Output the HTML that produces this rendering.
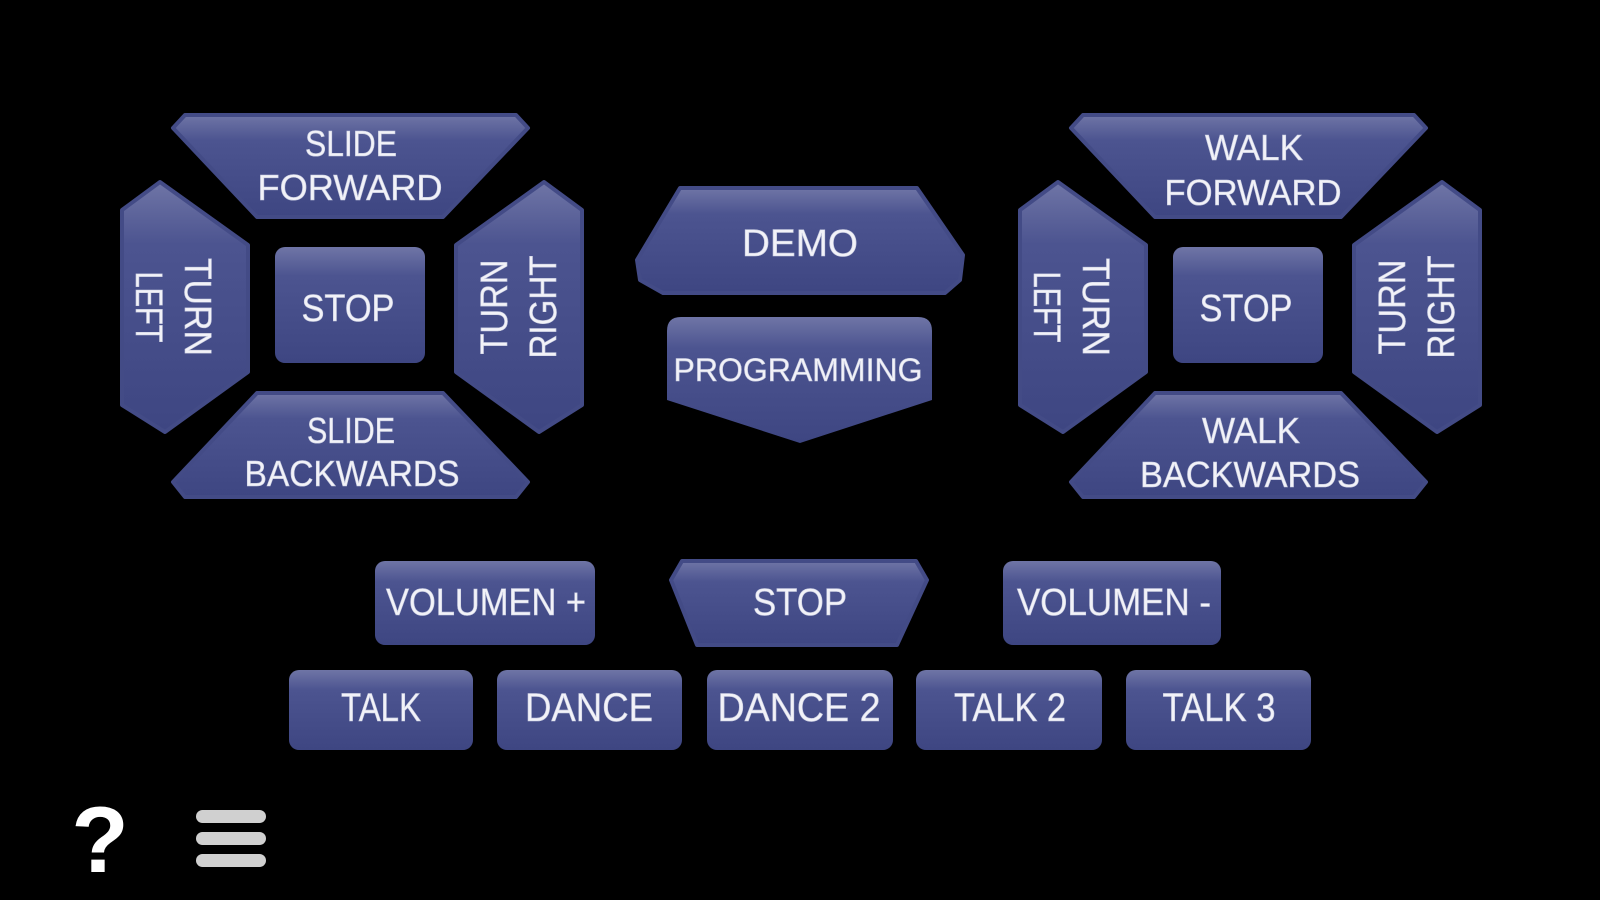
<!DOCTYPE html>
<html><head><meta charset="utf-8"><style>
html,body{margin:0;padding:0;background:#000;width:1600px;height:900px;overflow:hidden}
svg{display:block}
text{font-family:"Liberation Sans",sans-serif;fill:#f2f2f8;text-anchor:middle;stroke:#c8cce0;stroke-width:0.6}
</style></head><body>
<svg width="1600" height="900" viewBox="0 0 1600 900" xmlns="http://www.w3.org/2000/svg">
<defs>
<linearGradient id="g" x1="0" y1="0" x2="0" y2="1">
<stop offset="0" stop-color="#6f75a6"/><stop offset="0.25" stop-color="#4c5490"/><stop offset="1" stop-color="#3e4682"/>
</linearGradient>
<g id="cluster">
<polygon points="185,115 516,115 528,128 443,217 257,217 173,128" fill="url(#g)" stroke="#434b86" stroke-width="4" stroke-linejoin="round"/>
<polygon points="257,393 443,393 528,482 516,497 185,497 173,482" fill="url(#g)" stroke="#434b86" stroke-width="4" stroke-linejoin="round"/>
<polygon points="160,182 248,245 248,372 165,432 122,405 122,210" fill="url(#g)" stroke="#434b86" stroke-width="4" stroke-linejoin="round"/>
<polygon points="544,182 456,245 456,372 539,432 582,405 582,210" fill="url(#g)" stroke="#434b86" stroke-width="4" stroke-linejoin="round"/>
<rect x="275" y="247" width="150" height="116" rx="10" fill="url(#g)"/>
<text x="348" y="321" font-size="38" textLength="93" lengthAdjust="spacingAndGlyphs">STOP</text>
<text transform="translate(176,307) rotate(90)" font-size="38"><tspan x="0" y="-9" textLength="98" lengthAdjust="spacingAndGlyphs">TURN</tspan><tspan x="0" y="40" textLength="71" lengthAdjust="spacingAndGlyphs">LEFT</tspan></text>
<text transform="translate(516,307) rotate(-90)" font-size="38"><tspan x="0" y="-9" textLength="95" lengthAdjust="spacingAndGlyphs">TURN</tspan><tspan x="0" y="40" textLength="103" lengthAdjust="spacingAndGlyphs">RIGHT</tspan></text>
</g>
</defs>
<use href="#cluster"/>
<use href="#cluster" transform="translate(898,0)"/>
<g font-size="36">
<text x="351" y="156" textLength="92" lengthAdjust="spacingAndGlyphs">SLIDE</text>
<text x="350" y="200" textLength="185" lengthAdjust="spacingAndGlyphs">FORWARD</text>
<text x="351" y="443" textLength="88" lengthAdjust="spacingAndGlyphs">SLIDE</text>
<text x="352" y="486" textLength="215" lengthAdjust="spacingAndGlyphs">BACKWARDS</text>
<text x="1254" y="160" textLength="98" lengthAdjust="spacingAndGlyphs">WALK</text>
<text x="1253" y="205" textLength="177" lengthAdjust="spacingAndGlyphs">FORWARD</text>
<text x="1251" y="443" textLength="98" lengthAdjust="spacingAndGlyphs">WALK</text>
<text x="1250" y="487" textLength="220" lengthAdjust="spacingAndGlyphs">BACKWARDS</text>
</g>
<!-- middle -->
<polygon points="680,188 917,188 963,255 960,280 945,293 663,293 640,280 637,260" fill="url(#g)" stroke="#434b86" stroke-width="4" stroke-linejoin="round"/>
<text x="800" y="256" font-size="38" textLength="116" lengthAdjust="spacingAndGlyphs">DEMO</text>
<path d="M681,317 H918 Q932,317 932,331 V400 L800,443 L667,400 V331 Q667,317 681,317 Z" fill="url(#g)"/>
<text x="798" y="381" font-size="32" textLength="249" lengthAdjust="spacingAndGlyphs">PROGRAMMING</text>
<!-- bottom rows -->
<rect x="375" y="561" width="220" height="84" rx="10" fill="url(#g)"/>
<text x="486" y="615" font-size="38" textLength="200" lengthAdjust="spacingAndGlyphs">VOLUMEN +</text>
<polygon points="682,561 916,561 927,580 897,645 697,645 671,580" fill="url(#g)" stroke="#434b86" stroke-width="4" stroke-linejoin="round"/>
<text x="800" y="615" font-size="38" textLength="94" lengthAdjust="spacingAndGlyphs">STOP</text>
<rect x="1003" y="561" width="218" height="84" rx="10" fill="url(#g)"/>
<text x="1114" y="615" font-size="38" textLength="194" lengthAdjust="spacingAndGlyphs">VOLUMEN -</text>
<g font-size="40">
<rect x="289" y="670" width="184" height="80" rx="10" fill="url(#g)"/>
<text x="381" y="721" textLength="80" lengthAdjust="spacingAndGlyphs">TALK</text>
<rect x="497" y="670" width="185" height="80" rx="10" fill="url(#g)"/>
<text x="589" y="721" textLength="128" lengthAdjust="spacingAndGlyphs">DANCE</text>
<rect x="707" y="670" width="186" height="80" rx="10" fill="url(#g)"/>
<text x="799" y="721" textLength="163" lengthAdjust="spacingAndGlyphs">DANCE 2</text>
<rect x="916" y="670" width="186" height="80" rx="10" fill="url(#g)"/>
<text x="1010" y="721" textLength="112" lengthAdjust="spacingAndGlyphs">TALK 2</text>
<rect x="1126" y="670" width="185" height="80" rx="10" fill="url(#g)"/>
<text x="1219" y="721" textLength="113" lengthAdjust="spacingAndGlyphs">TALK 3</text>
</g>
<text x="100" y="872" font-size="94" font-weight="bold" style="fill:#fff;stroke:none">?</text>
<g fill="#d0d0d0">
<rect x="196" y="810" width="70" height="13" rx="6.5"/>
<rect x="196" y="832" width="70" height="13" rx="6.5"/>
<rect x="196" y="854" width="70" height="13" rx="6.5"/>
</g>
</svg>
</body></html>
